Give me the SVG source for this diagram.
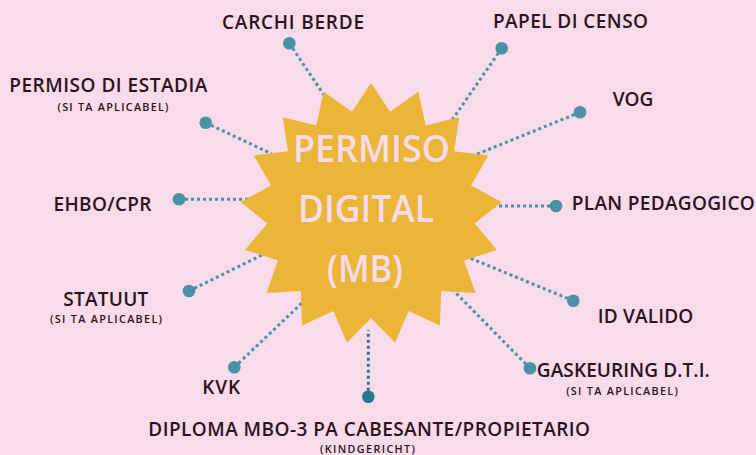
<svg xmlns="http://www.w3.org/2000/svg" width="756" height="455" viewBox="0 0 756 455">
<style>
.bg{fill:#f9dbea}
.lbl{font-family:"Open Sans","Liberation Sans",Arial,sans-serif;font-weight:600;font-size:19px;fill:#2b1222;text-anchor:middle}
.sub{font-family:"Open Sans","Liberation Sans",Arial,sans-serif;font-weight:600;font-size:10.8px;fill:#2b1222;text-anchor:middle}
.con{stroke:#4a91a6;stroke-width:3;stroke-dasharray:3 3;fill:none}
.dot{fill:#4a91a6}
.star{fill:#ebb537}
.ctr{font-family:"Open Sans","Liberation Sans",Arial,sans-serif;font-weight:600;font-size:37px;fill:#f9dbea;text-anchor:middle}
</style>
<rect class="bg" x="0" y="0" width="756" height="455"/>
<g id="connectors">
<line class="con" x1="289.3" y1="43.3" x2="326" y2="98"/>
<line class="con" x1="501.7" y1="48.3" x2="450" y2="123"/>
<line class="con" x1="205.7" y1="122.7" x2="272" y2="154"/>
<line class="con" x1="580" y1="112.3" x2="470" y2="157"/>
<line class="con" x1="179" y1="199.3" x2="250" y2="199.3"/>
<line class="con" x1="556" y1="206" x2="495" y2="206"/>
<line class="con" x1="189" y1="291" x2="262" y2="255"/>
<line class="con" x1="573.3" y1="300.7" x2="465" y2="256"/>
<line class="con" x1="234.3" y1="367.3" x2="304" y2="301"/>
<line class="con" x1="530" y1="368.3" x2="452" y2="289"/>
<line class="con" x1="368.3" y1="396.7" x2="368.3" y2="330" style="stroke:#23798f"/>
</g>
<g id="center">
<polygon class="star" points="371,83 390.1,111.8 418.3,91.8 425.7,125.6 459.3,117.2 454,151.3 488.3,155.6 471,185.5 501.4,201.9 474.6,223.6 497,249.9 464.1,260.4 475.5,292.9 441.1,290.9 440,325.4 408.6,311 395.1,342.8 371,318 346.9,342.8 333.4,311 302,325.4 300.9,290.9 266.5,292.9 277.9,260.4 245,249.9 267.4,223.6 240.6,201.9 271,185.5 253.7,155.6 288,151.3 282.7,117.2 316.3,125.6 323.7,91.8 351.9,111.8"/>
<text class="ctr" x="371.5" y="162" textLength="157" lengthAdjust="spacingAndGlyphs">PERMISO</text>
<text class="ctr" x="366" y="222" textLength="136" lengthAdjust="spacingAndGlyphs">DIGITAL</text>
<text class="ctr" x="365" y="281.5" textLength="76" lengthAdjust="spacingAndGlyphs">(MB)</text>
</g>
<g id="carchi-berde">
<circle class="dot" cx="289.3" cy="43.3" r="6.3"/>
<text class="lbl" x="293" y="29" textLength="142">CARCHI BERDE</text>
</g>
<g id="papel-di-censo">
<circle class="dot" cx="501.7" cy="48.3" r="6.3"/>
<text class="lbl" x="570.5" y="28" textLength="155">PAPEL DI CENSO</text>
</g>
<g id="permiso-di-estadia">
<circle class="dot" cx="205.7" cy="122.7" r="6.3"/>
<text class="lbl" x="108.3" y="92.3" textLength="198">PERMISO DI ESTADIA</text>
<text class="sub" x="113" y="110.7" textLength="111">(SI TA APLICABEL)</text>
</g>
<g id="vog">
<circle class="dot" cx="580" cy="112.3" r="6.3"/>
<text class="lbl" x="633" y="105.7" textLength="40.6">VOG</text>
</g>
<g id="ehbo-cpr">
<circle class="dot" cx="179" cy="199.3" r="6.3"/>
<text class="lbl" x="102.5" y="210.7" textLength="98">EHBO/CPR</text>
</g>
<g id="plan-pedagogico">
<circle class="dot" cx="556" cy="206" r="6.3"/>
<text class="lbl" x="663.3" y="210" textLength="183">PLAN PEDAGOGICO</text>
</g>
<g id="statuut">
<circle class="dot" cx="189" cy="291" r="6.3"/>
<text class="lbl" x="105.8" y="305.7" textLength="85">STATUUT</text>
<text class="sub" x="106" y="323.3" textLength="112">(SI TA APLICABEL)</text>
</g>
<g id="id-valido">
<circle class="dot" cx="573.3" cy="300.7" r="6.3"/>
<text class="lbl" x="645.5" y="323.3" textLength="95.6">ID VALIDO</text>
</g>
<g id="kvk">
<circle class="dot" cx="234.3" cy="367.3" r="6.3"/>
<text class="lbl" x="221.2" y="394" textLength="37.7">KVK</text>
</g>
<g id="gaskeuring">
<circle class="dot" cx="530" cy="368.3" r="6.3"/>
<text class="lbl" x="623.3" y="376.7" textLength="173">GASKEURING D.T.I.</text>
<text class="sub" x="622" y="394.5" textLength="111.7">(SI TA APLICABEL)</text>
</g>
<g id="diploma">
<circle cx="368.3" cy="396.7" r="6.3" fill="#23798f"/>
<text class="lbl" x="369.2" y="435.7" textLength="441.7">DIPLOMA MBO-3 PA CABESANTE/PROPIETARIO</text>
<text class="sub" x="367.5" y="453" textLength="95">(KINDGERICHT)</text>
</g>
</svg>
